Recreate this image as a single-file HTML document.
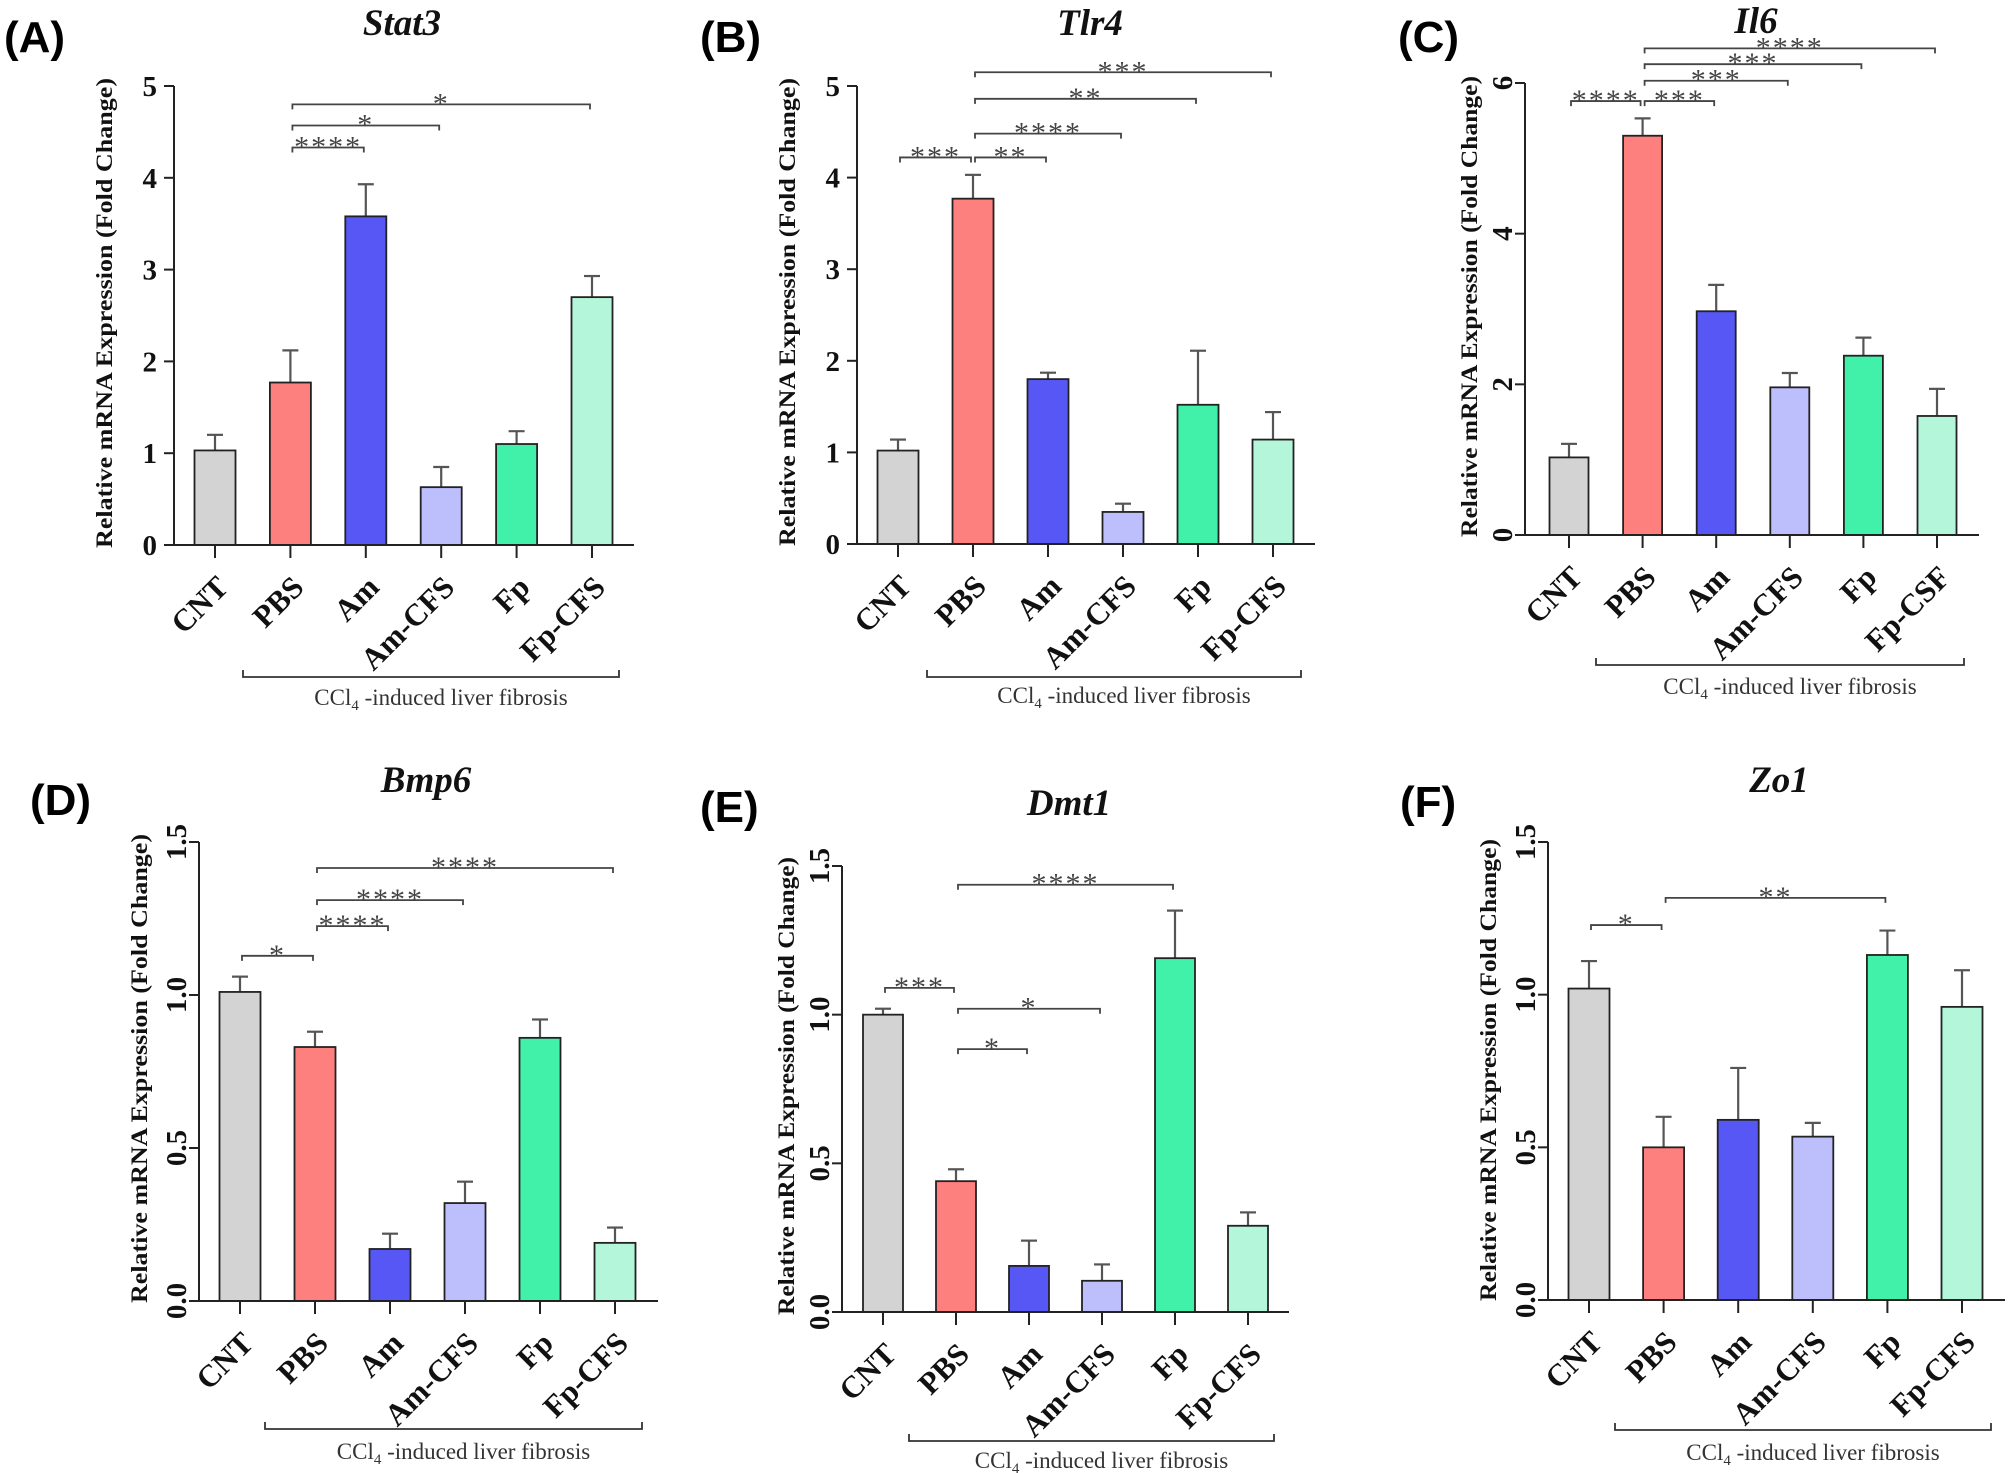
<!DOCTYPE html>
<html><head><meta charset="utf-8"><style>
html,body{margin:0;padding:0;background:#fff;}
svg{display:block;}
.tick{font-family:"Liberation Serif",serif;font-weight:bold;font-size:29px;fill:#111;}
.xl{font-family:"Liberation Serif",serif;font-weight:bold;font-size:31px;fill:#111;}
.yt{font-family:"Liberation Serif",serif;font-weight:bold;font-size:23px;fill:#111;}
.ttl{font-family:"Liberation Serif",serif;font-weight:bold;font-style:italic;font-size:37px;fill:#111;}
.pl{font-family:"Liberation Sans",sans-serif;font-weight:bold;font-size:44px;fill:#000;}
.grp{font-family:"Liberation Serif",serif;font-size:23px;fill:#333;}
.star{font-family:"Liberation Serif",serif;font-size:30px;fill:#444;letter-spacing:2px;}
</style></head><body>
<svg id="fig" width="2008" height="1473" viewBox="0 0 2008 1473" xmlns="http://www.w3.org/2000/svg"></svg>
<script>
const categories = ['CNT','PBS','Am','Am-CFS','Fp','Fp-CFS'];
const categoriesIl6 = ['CNT','PBS','Am','Am-CFS','Fp','Fp-CSF'];

const stat3Values = [1.03,1.77,3.58,0.63,1.10,2.70];
const stat3Errors = [0.17,0.35,0.35,0.22,0.14,0.23];
const stat3Ticks = ['0','1','2','3','4','5'];
const stat3Sig = [[1,2,4.33,'****'],[1,3,4.57,'*'],[1,5,4.80,'*']];

const tlr4Values = [1.02,3.77,1.80,0.35,1.52,1.14];
const tlr4Errors = [0.12,0.26,0.07,0.09,0.59,0.30];
const tlr4Ticks = ['0','1','2','3','4','5'];
const tlr4Sig = [[0,1,4.22,'***'],[1,2,4.22,'**'],[1,3,4.48,'****'],[1,4,4.86,'**'],[1,5,5.15,'***']];

const il6Values = [1.03,5.30,2.97,1.96,2.38,1.58];
const il6Errors = [0.18,0.23,0.35,0.19,0.24,0.36];
const il6Ticks = ['0','2','4','6'];
const il6Sig = [[0,1,5.76,'****'],[1,2,5.76,'***'],[1,3,6.03,'***'],[1,4,6.25,'***'],[1,5,6.46,'****']];

const bmp6Values = [1.01,0.83,0.17,0.32,0.86,0.19];
const bmp6Errors = [0.05,0.05,0.05,0.07,0.06,0.05];
const bmp6Ticks = ['0.0','0.5','1.0','1.5'];
const bmp6Sig = [[0,1,1.128,'*'],[1,2,1.225,'****'],[1,3,1.31,'****'],[1,5,1.415,'****']];

const dmt1Values = [1.00,0.44,0.155,0.105,1.19,0.29];
const dmt1Errors = [0.02,0.04,0.085,0.055,0.16,0.045];
const dmt1Ticks = ['0.0','0.5','1.0','1.5'];
const dmt1Sig = [[0,1,1.09,'***'],[1,3,1.02,'*'],[1,2,0.884,'*'],[1,4,1.437,'****']];

const zo1Values = [1.02,0.50,0.59,0.535,1.13,0.96];
const zo1Errors = [0.09,0.10,0.17,0.045,0.08,0.12];
const zo1Ticks = ['0.0','0.5','1.0','1.5'];
const zo1Sig = [[0,1,1.228,'*'],[1,4,1.317,'**']];

const colors = ['#d3d3d3','#fd7f7e','#5757f6','#bdbffc','#41f0a9','#b3f6da'];
const NS = 'http://www.w3.org/2000/svg';
const svg = document.getElementById('fig');

function mk(tag, attrs, parent, text){
  const e = document.createElementNS(NS, tag);
  for (const k in attrs) e.setAttribute(k, attrs[k]);
  if (text !== undefined) e.textContent = text;
  (parent || svg).appendChild(e);
  return e;
}

function panel(L, cats, vals, errs, ticks, sigs){
  const g = mk('g', {});
  
  
  const yMax = parseFloat(ticks[ticks.length-1]);
  const yS = v => L.y0 - v / yMax * (L.y0 - L.yTop);
  const xS = i => L.x1 + i * L.step;

  const pl = mk('text', {x:L.plx, y:L.ply, class:'pl'}, g, '(' + L.letter + ')');
  
  
  const tt = mk('text', {x:L.tx, y:L.ty, class:'ttl', 'text-anchor':'middle'}, g, L.title);
  
  

  const ytx = L.ytx, ytc = (L.ytTop + L.ytBot) / 2;
  const yt = mk('text', {x:ytx, y:ytc, class:'yt', 'text-anchor':'middle',
    transform:'rotate(-90 ' + ytx + ' ' + ytc + ')', textLength:(L.ytBot - L.ytTop), lengthAdjust:'spacingAndGlyphs'}, g, 'Relative mRNA Expression (Fold Change)');
  
  

  vals.forEach((v, i) => {
    const cx = xS(i), top = yS(v), et = yS(v + errs[i]);
    const eb = mk('line', {x1:cx, x2:cx, y1:top, y2:et, stroke:'#555', 'stroke-width':2.2}, g);
    
    
    const ec = mk('line', {x1:cx-8, x2:cx+8, y1:et, y2:et, stroke:'#555', 'stroke-width':2.2}, g);
    
    
    const r = mk('rect', {x:cx - L.bw/2, y:top, width:L.bw, height:L.y0 - top, fill:colors[i], stroke:'#222', 'stroke-width':1.8}, g);
    
    
  });

  const ya = mk('line', {x1:L.ax, x2:L.ax, y1:L.yTop, y2:L.y0, stroke:'#222', 'stroke-width':2}, g);
  
  
  const xa = mk('line', {x1:L.ax, x2:L.axEnd, y1:L.y0, y2:L.y0, stroke:'#222', 'stroke-width':2}, g);
  
  

  ticks.forEach(t => {
    const y = yS(parseFloat(t));
    mk('line', {x1:L.ax-10, x2:L.ax, y1:y, y2:y, stroke:'#222', 'stroke-width':2}, g);
    let tl;
    if (L.rotTicks) {
      const bx = L.ax - 13;
      tl = mk('text', {x:bx, y:y, class:'tick', 'text-anchor':'middle', transform:'rotate(-90 ' + bx + ' ' + y + ')'}, g, t);
    } else {
      tl = mk('text', {x:L.ax - 17, y:y + 10, class:'tick', 'text-anchor':'end'}, g, t);
    }
    
    
  });

  cats.forEach((c, i) => {
    const cx = xS(i);
    mk('line', {x1:cx, x2:cx, y1:L.y0, y2:L.y0 + 13, stroke:'#222', 'stroke-width':2}, g);
    const ex = cx + 15, ey = L.y0 + 44;
    const xl = mk('text', {x:ex, y:ey, class:'xl', 'text-anchor':'end', transform:'rotate(-45 ' + ex + ' ' + ey + ')'}, g, c);
    
    
  });

  sigs.forEach(s => {
    const xa1 = xS(s[0]) + 2, xb = xS(s[1]) - 2, y = yS(s[2]);
    const p = mk('path', {d:'M' + xa1 + ' ' + (y+5) + 'V' + y + 'H' + xb + 'V' + (y+5), fill:'none', stroke:'#444', 'stroke-width':1.8}, g);
    
    
    const st = mk('text', {x:(xa1 + xb) / 2, y:y + 9, class:'star', 'text-anchor':'middle'}, g, s[3]);
    
    
  });

  const gb = mk('path', {d:'M' + L.gx1 + ' ' + (L.gy-7) + 'V' + L.gy + 'H' + L.gx2 + 'V' + (L.gy-7), fill:'none', stroke:'#333', 'stroke-width':1.8}, g);
  
  
  const gt = mk('text', {x:(L.gx1 + L.gx2) / 2 + 10, y:L.gty, class:'grp', 'text-anchor':'middle'}, g);
  
  
  mk('tspan', {}, gt, 'CCl');
  mk('tspan', {dy:5, 'font-size':15}, gt, '4');
  mk('tspan', {dy:-5}, gt, ' -induced liver fibrosis');
}

panel({id:'stat3', letter:'A', title:'Stat3', plx:4, ply:52, tx:402, ty:35,
  ax:174, axEnd:634, yTop:86, y0:545, x1:215, step:75.4, bw:41, rotTicks:false,
  ytx:112, ytTop:78, ytBot:548, gx1:243, gx2:619, gy:677, gty:705},
  categories, stat3Values, stat3Errors, stat3Ticks, stat3Sig);

panel({id:'tlr4', letter:'B', title:'Tlr4', plx:700, ply:52, tx:1090, ty:35,
  ax:857, axEnd:1315, yTop:86, y0:544, x1:898, step:75, bw:41, rotTicks:false,
  ytx:795, ytTop:78, ytBot:546, gx1:927, gx2:1301, gy:677, gty:703},
  categories, tlr4Values, tlr4Errors, tlr4Ticks, tlr4Sig);

panel({id:'il6', letter:'C', title:'Il6', plx:1398, ply:52, tx:1756, ty:33,
  ax:1525, axEnd:1979, yTop:83, y0:535, x1:1569, step:73.6, bw:39, rotTicks:true,
  ytx:1477, ytTop:76, ytBot:537, gx1:1596, gx2:1964, gy:665, gty:694},
  categoriesIl6, il6Values, il6Errors, il6Ticks, il6Sig);

panel({id:'bmp6', letter:'D', title:'Bmp6', plx:30, ply:815, tx:426, ty:792,
  ax:199, axEnd:658, yTop:842, y0:1301, x1:240, step:75, bw:41, rotTicks:true,
  ytx:147, ytTop:834, ytBot:1303, gx1:265, gx2:642, gy:1429, gty:1459},
  categories, bmp6Values, bmp6Errors, bmp6Ticks, bmp6Sig);

panel({id:'dmt1', letter:'E', title:'Dmt1', plx:700, ply:822, tx:1069, ty:815,
  ax:842, axEnd:1289, yTop:866, y0:1312, x1:883, step:73, bw:40, rotTicks:true,
  ytx:794, ytTop:857, ytBot:1315, gx1:909, gx2:1274, gy:1441, gty:1468},
  categories, dmt1Values, dmt1Errors, dmt1Ticks, dmt1Sig);

panel({id:'zo1', letter:'F', title:'Zo1', plx:1400, ply:817, tx:1779, ty:792,
  ax:1548, axEnd:2005, yTop:842, y0:1300, x1:1589, step:74.6, bw:41, rotTicks:true,
  ytx:1496, ytTop:839, ytBot:1301, gx1:1615, gx2:1991, gy:1430, gty:1460},
  categories, zo1Values, zo1Errors, zo1Ticks, zo1Sig);
</script>
</body></html>
